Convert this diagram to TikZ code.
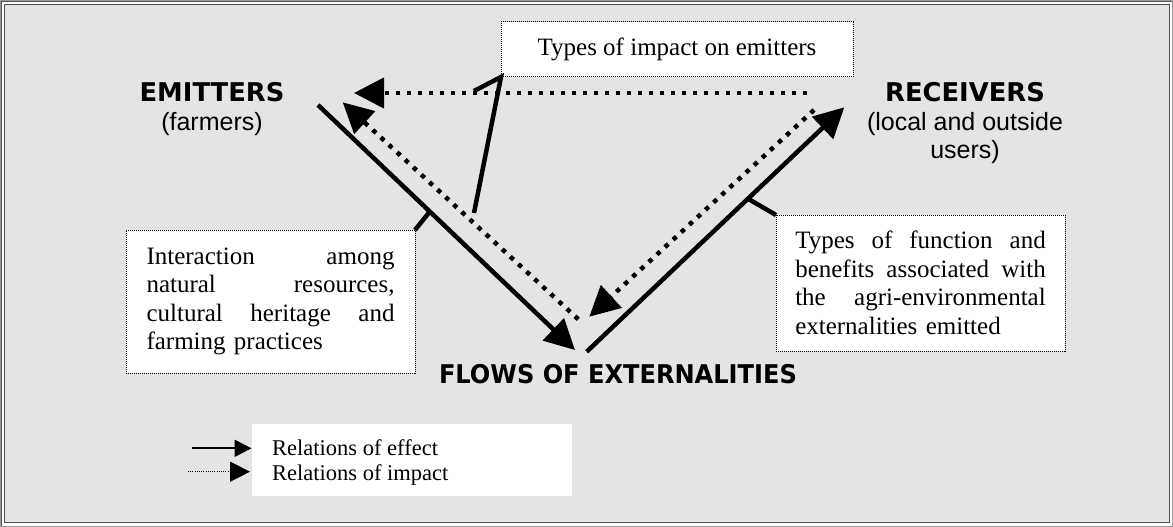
\documentclass[tikz,border=0pt]{standalone}
\usepackage{fontspec}
\setmainfont{Liberation Serif}
\newfontfamily\titlefont{DejaVu Sans}
\newfontfamily\arialfont{Liberation Sans}
\usepackage{graphicx}
\usetikzlibrary{arrows.meta,calc}
\definecolor{bggray}{HTML}{E4E4E4}
\definecolor{framedark}{HTML}{505050}
\definecolor{framelight}{HTML}{9A9A9A}
\begin{document}
\begin{tikzpicture}[x=1pt,y=-1pt,
  titletext/.style={font=\titlefont\bfseries\fontsize{25.8}{30}\selectfont, inner sep=0pt, anchor=base},
  subtext/.style={font=\arialfont\fontsize{25}{28}\selectfont, inner sep=0pt, anchor=base},
  dbox/.style={draw=black, line width=1pt, dash pattern=on 1pt off 1pt, fill=white, outer sep=0pt, inner sep=0pt},
  bodytext/.style={font=\fontsize{25}{28.5}\selectfont},
  legtext/.style={font=\fontsize{22.5}{25}\selectfont, inner sep=0pt, anchor=base west},
  effect/.style={line width=4.5pt},
  impact/.style={line width=4.5pt, dash pattern=on 4.5pt off 6.5pt},
  bigtip/.style={-{Triangle[length=30pt,width=30pt]}},
]
\useasboundingbox (0,0) rectangle (1173,527);
% frame
\fill[white] (0,0) rectangle (1173,527);
\draw[framelight, line width=1.2pt] (0.8,0.8) rectangle (1172.2,526.2);
\fill[bggray] (4.5,4.5) rectangle (1169.5,522.5);
\draw[framedark, line width=1.5pt] (4.5,4.5) rectangle (1169.5,522.5);
\draw[framedark, line width=1pt] (1.5,1.5) -- (1.5,525.5);
\draw[framedark, line width=1pt] (1.5,1.5) -- (1171.5,1.5);

% titles
\node[titletext] (emit) at (212,102) {EMITTERS};
\node[subtext] (farm) at (212,130.5) {(farmers)};
\node[titletext] (recv) at (965,102) {RECEIVERS};
\node[subtext] (recvA) at (965,130.5) {(local and outside};
\node[subtext] (recvB) at (965,158.5) {users)};
\node[titletext] (flows) at (618,383) {\scalebox{0.934}[1]{FLOWS OF EXTERNALITIES}};

% boxes
\node[dbox, minimum width=352pt, minimum height=55pt, bodytext] (types) at (677,49.5) {Types of impact on emitters};
\node[dbox, minimum width=289pt, minimum height=143pt, bodytext, text width=248pt, align=left] (lbox) at (270.5,301.5)
  {\makebox[248pt][s]{Interaction\hfill among}\\\makebox[248pt][s]{natural\hfill resources,}\\\makebox[248pt][s]{cultural\hfill heritage\hfill and}\\farming practices};
\node[dbox, minimum width=289pt, minimum height=136pt, bodytext, text width=250.5pt, align=left] (rbox) at (920.5,283)
  {\makebox[250.5pt][s]{Types\hfill of\hfill function\hfill and}\\\makebox[250.5pt][s]{benefits\hfill associated\hfill with}\\\makebox[250.5pt][s]{the\hfill agri-environmental}\\externalities emitted};

% main connectors
\coordinate (e1) at (318,105);
\coordinate (e2) at (575,350);
\coordinate (i1s) at (578.3,319.3);
\coordinate (i1e) at (342.7,102.3);
\coordinate (r1) at (586.7,351.7);
\coordinate (r2) at (844.3,107.3);
\coordinate (i2s) at (814,110);
\coordinate (i2e) at (589.3,316.7);
\coordinate (h1) at (807,93);
\coordinate (h2) at (354,93);
\coordinate (vA) at (474,91);
\coordinate (vB) at (474,213);

\draw[effect,bigtip] (e1) -- (e2);
\draw[impact,bigtip] (i1s) -- (i1e);
\draw[effect,bigtip] (r1) -- (r2);
\draw[impact,bigtip] (i2s) -- (i2e);
\draw[impact,bigtip] (h1) -- (h2);
\draw[effect] (vA) -- (types.south west) -- (vB);
\draw[effect] (lbox.north east) -- ($(e1)!0.435!(e2)$);
\draw[effect] (rbox.north west) -- ($(r1)!0.626!(r2)$);

% legend
\node[fill=white, minimum width=320pt, minimum height=72pt, outer sep=0pt, inner sep=0pt] (legbox) at (412,460) {};
\node[legtext] (legA) at (272,455) {Relations of effect};
\node[legtext] (legB) at (272,480) {Relations of impact};
\coordinate (lsA) at (191.5,448.3);
\coordinate (lsB) at (251.5,448.3);
\coordinate (ldA) at (188,471.7);
\coordinate (ldB) at (250,471.7);
\draw[line width=2pt, -{Triangle[length=17pt,width=17pt]}] (lsA) -- (lsB);
\draw[line width=1.5pt, dash pattern=on 1pt off 1.2pt, -{Triangle[length=20pt,width=20pt]}] (ldA) -- (ldB);
\end{tikzpicture}
\end{document}
